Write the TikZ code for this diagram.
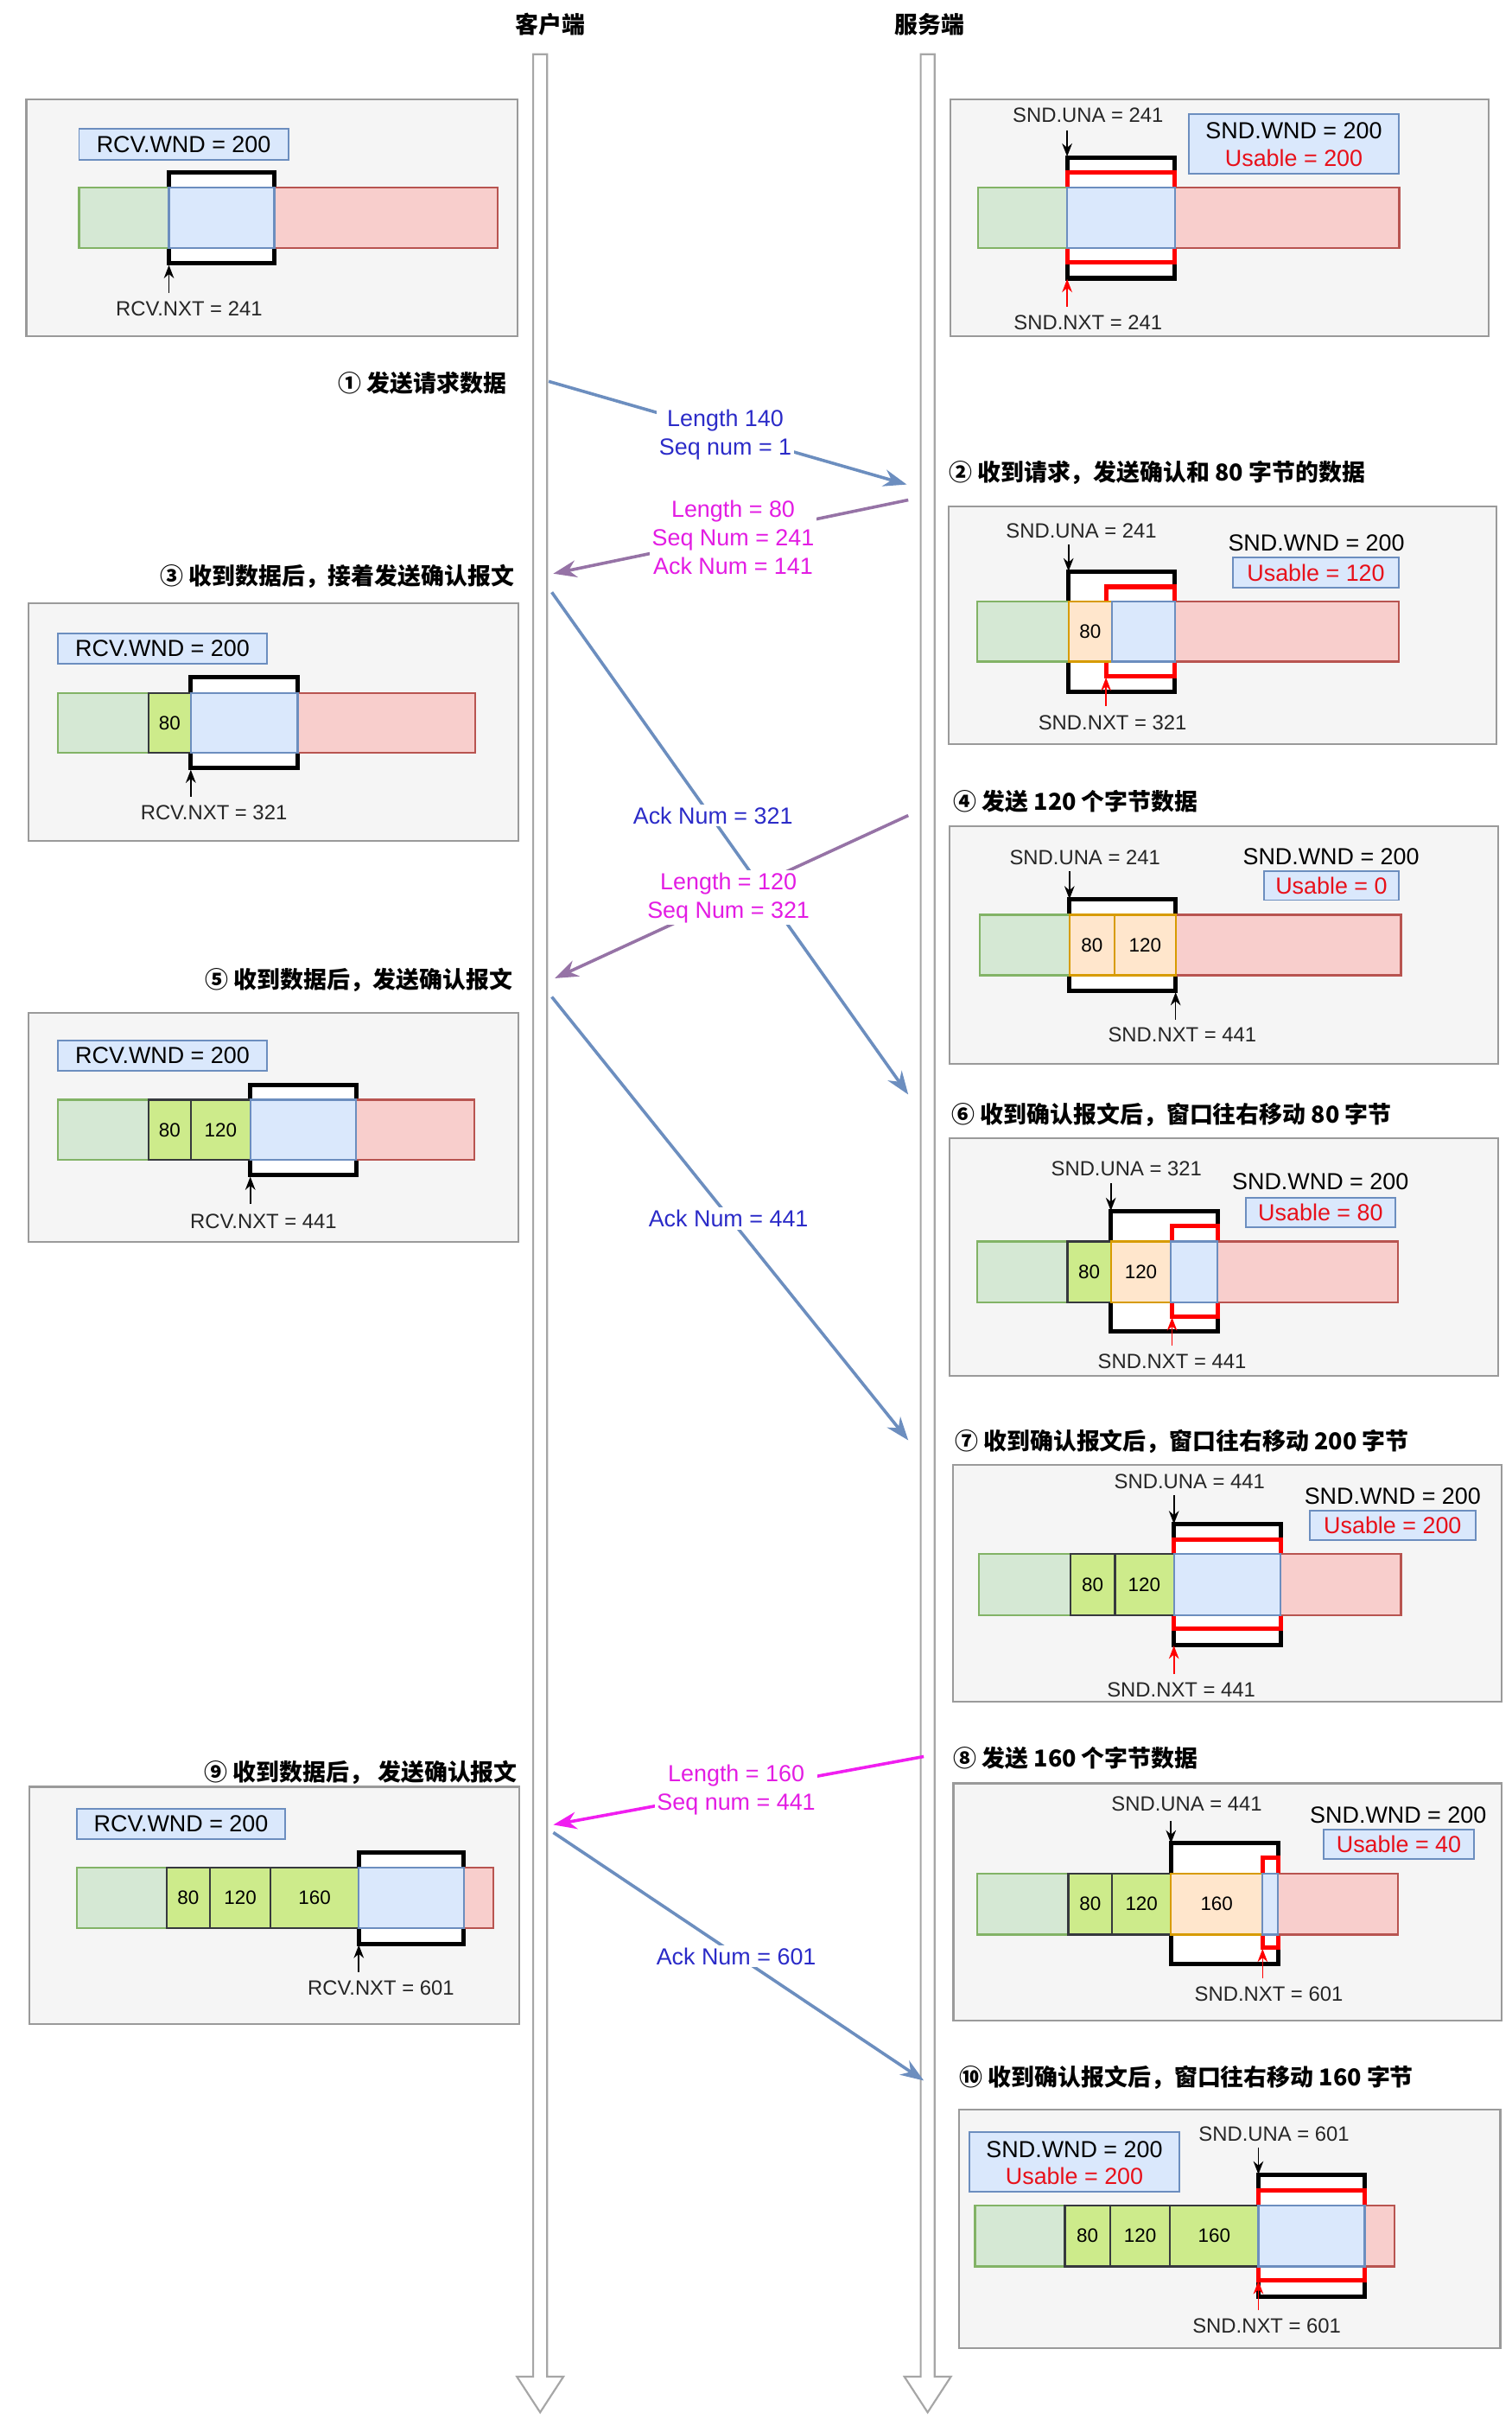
\documentclass[tikz,border=0pt]{standalone}
\usepackage{fontspec}
\setmainfont{Liberation Sans}
\newfontfamily\cjk{Noto Sans CJK SC}
\usetikzlibrary{arrows.meta}
\definecolor{panelbg}{HTML}{F5F5F5}
\definecolor{panelbd}{HTML}{9A9A9A}
\definecolor{gf}{HTML}{D5E8D4}\definecolor{gd}{HTML}{82B366}
\definecolor{bf}{HTML}{DAE8FC}\definecolor{bd}{HTML}{6C8EBF}
\definecolor{rf}{HTML}{F8CECC}\definecolor{rd}{HTML}{B85450}
\definecolor{of}{HTML}{FFE6CC}\definecolor{od}{HTML}{D79B00}
\definecolor{lf}{HTML}{CDEB8B}\definecolor{ld}{HTML}{36393D}
\definecolor{mblue}{HTML}{6C8EBF}
\definecolor{mpurple}{HTML}{9673A6}
\definecolor{mmag}{HTML}{F01EF0}
\definecolor{tblue}{HTML}{2B2BC8}
\definecolor{tmag}{HTML}{E31CE3}
\definecolor{usered}{HTML}{E8101A}
\definecolor{llgray}{HTML}{A6A6A6}
\tikzset{
  panel/.style={fill=panelbg, draw=panelbd, line width=1.2pt},
  wndbox/.style={fill=bf, draw=bd, line width=1pt},
  win/.style={fill=white, draw=black, line width=2.8pt},
  uwin/.style={fill=white, draw=red, line width=2.8pt},
  sg/.style={fill=gf, draw=gd, line width=1.3pt},
  sb/.style={fill=bf, draw=bd, line width=1.3pt},
  sr/.style={fill=rf, draw=rd, line width=1.3pt},
  so/.style={fill=of, draw=od, line width=1.3pt},
  sl/.style={fill=lf, draw=ld, line width=1.3pt},
  cell/.style={font=\fontsize{12.5}{14}\selectfont, inner sep=0pt},
  ptr/.style={draw=black, line width=0.9pt, -{Stealth[length=8.5pt,width=6.5pt]}},
  rptr/.style={draw=red, line width=0.9pt, -{Stealth[length=8.5pt,width=6.5pt]}},
  ptrlbl/.style={font=\fontsize{13.3}{15}\selectfont, text=black!85, inner sep=0pt},
  wndtxt/.style={font=\fontsize{15}{17}\selectfont, inner sep=0pt},
  usetxt/.style={font=\fontsize{15}{17}\selectfont, inner sep=0pt, text=usered},
  stepl/.style={font=\cjk\bfseries\fontsize{15}{17}\selectfont, inner sep=0pt},
  hdr/.style={font=\cjk\bfseries\fontsize{15}{17}\selectfont, inner sep=0pt},
  msg/.style={line width=2pt, -{Stealth[length=15pt,width=11pt]}},
  msglbl/.style={fill=white, inner sep=1.5pt, align=center, font=\fontsize{15}{18.3}\selectfont},
  lifeline/.style={fill=white, draw=llgray, line width=1.2pt}
}
\begin{document}
\begin{tikzpicture}[x=1pt,y=-1pt]
\useasboundingbox[fill=white] (0,0) rectangle (975,1560.3);

% headers
\node[hdr] (hc) at (355,16) {客户端};
\node[hdr] (hs) at (600,16) {服务端};

% lifelines
\draw[lifeline] (344,35) -- (353,35) -- (353,1533) -- (363.5,1533) -- (348.5,1556) -- (333.5,1533) -- (344,1533) -- cycle;
\draw[lifeline] (594,35) -- (603,35) -- (603,1533) -- (613.5,1533) -- (598.5,1556) -- (583.5,1533) -- (594,1533) -- cycle;

% ================= Panel 1 client
\draw[panel] (17,64) rectangle (334,217);
\node[wndbox, wndtxt, minimum width=135pt, minimum height=20pt] (c1w) at (118.5,93) {RCV.WND = 200};
\draw[win] (109,111) rectangle (177,170);
\draw[sg] (51,121) rectangle (109,160);
\draw[sr] (177,121) rectangle (321,160);
\draw[sb] (109,121) rectangle (177,160);
\node[ptrlbl] (c1n) at (122,199) {RCV.NXT = 241};
\coordinate (c1a) at (109,189); \coordinate (c1b) at (109,171);
\draw[ptr] (c1a) -- (c1b);

% ================= Panel 1 server
\draw[panel] (613,64) rectangle (960.6,217);
\draw[win] (688.5,101.5) rectangle (758,179.5);
\draw[uwin] (688.5,111) rectangle (758,169);
\draw[sg] (631,121) rectangle (688.5,160);
\draw[sr] (758,121) rectangle (902.7,160);
\draw[sb] (688.5,121) rectangle (758,160);
\node[ptrlbl] (s1u) at (702,74.3) {SND.UNA = 241};
\coordinate (s1ua) at (688.5,84); \coordinate (s1ub) at (688.5,101);
\draw[ptr] (s1ua) -- (s1ub);
\node[ptrlbl] (s1n) at (702,208) {SND.NXT = 241};
\coordinate (s1na) at (688.5,198); \coordinate (s1nb) at (688.5,180);
\draw[rptr] (s1na) -- (s1nb);
\draw[wndbox] (767,73.7) rectangle (902.6,112);
\node[wndtxt] (s1w) at (834.8,84.5) {SND.WND = 200};
\node[usetxt] (s1x) at (834.8,102) {Usable = 200};

% ================= Panel 2 server
\draw[panel] (612,326.7) rectangle (965.5,480);
\draw[win] (689.4,368.8) rectangle (758,446.5);
\draw[uwin] (713.6,378.5) rectangle (758,436.3);
\draw[sg] (630.6,388) rectangle (689.4,426.8);
\draw[sr] (758,388) rectangle (902.6,426.8);
\draw[so] (689.4,388) rectangle (717.3,426.8);
\draw[sb] (717.3,388) rectangle (758,426.8);
\node[cell] (s2c1) at (703.4,407.4) {80};
\node[ptrlbl] (s2u) at (697.7,342.4) {SND.UNA = 241};
\coordinate (s2ua) at (689.4,351); \coordinate (s2ub) at (689.4,368.5);
\draw[ptr] (s2ua) -- (s2ub);
\node[ptrlbl] (s2n) at (717.8,466.4) {SND.NXT = 321};
\coordinate (s2na) at (713.6,455.5); \coordinate (s2nb) at (713.6,437);
\draw[rptr] (s2na) -- (s2nb);
\node[wndtxt] (s2w) at (849.3,350.2) {SND.WND = 200};
\node[wndbox, usetxt, minimum width=107pt, minimum height=19.5pt] (s2x) at (849,369.3) {Usable = 120};

% ================= Panel 3 client
\draw[panel] (18.2,389.3) rectangle (334.7,542.5);
\node[wndbox, wndtxt, minimum width=134.8pt, minimum height=19.6pt] (c3w) at (104.8,418.2) {RCV.WND = 200};
\draw[win] (123.1,437) rectangle (192,495.5);
\draw[sg] (37.4,446.9) rectangle (95.8,485.5);
\draw[sr] (192,446.9) rectangle (306.6,485.5);
\draw[sl] (95.8,446.9) rectangle (123.1,485.5);
\draw[sb] (123.1,446.9) rectangle (192,485.5);
\node[cell] (c3c1) at (109.5,466.2) {80};
\node[ptrlbl] (c3n) at (138,524) {RCV.NXT = 321};
\coordinate (c3a) at (123.1,513.8); \coordinate (c3b) at (123.1,496.5);
\draw[ptr] (c3a) -- (c3b);

% ================= Panel 4 server
\draw[panel] (612.8,533) rectangle (966.6,686);
\draw[win] (690,580) rectangle (758.5,639.2);
\draw[sg] (632,590) rectangle (690,629);
\draw[sr] (758.5,590) rectangle (903.8,629);
\draw[so] (690,590) rectangle (719,629);
\draw[so] (719,590) rectangle (758.5,629);
\node[cell] (s4c1) at (704.5,609.5) {80};
\node[cell] (s4c2) at (738.8,609.5) {120};
\node[ptrlbl] (s4u) at (700,553.3) {SND.UNA = 241};
\coordinate (s4ua) at (690,562); \coordinate (s4ub) at (690,580);
\draw[ptr] (s4ua) -- (s4ub);
\node[ptrlbl] (s4n) at (762.8,667.4) {SND.NXT = 441};
\coordinate (s4na) at (758.5,657.8); \coordinate (s4nb) at (758.5,640);
\draw[ptr] (s4na) -- (s4nb);
\node[wndtxt] (s4w) at (858.8,552.4) {SND.WND = 200};
\node[wndbox, usetxt, minimum width=87.2pt, minimum height=18.6pt] (s4x) at (859,571.3) {Usable = 0};

% ================= Panel 5 client
\draw[panel] (18.2,653.1) rectangle (334.7,801.2);
\node[wndbox, wndtxt, minimum width=134.8pt, minimum height=19.5pt] (c5w) at (104.8,680.9) {RCV.WND = 200};
\draw[win] (161.5,699.6) rectangle (229.8,758.1);
\draw[sg] (37.4,709.4) rectangle (95.8,748.2);
\draw[sr] (229.8,709.4) rectangle (306.2,748.2);
\draw[sl] (95.8,709.4) rectangle (123.1,748.2);
\draw[sl] (123.1,709.4) rectangle (161.5,748.2);
\draw[sb] (161.5,709.4) rectangle (229.8,748.2);
\node[cell] (c5c1) at (109.5,728.8) {80};
\node[cell] (c5c2) at (142.3,728.8) {120};
\node[ptrlbl] (c5n) at (170,787.8) {RCV.NXT = 441};
\coordinate (c5a) at (161.5,776.7); \coordinate (c5b) at (161.5,759);
\draw[ptr] (c5a) -- (c5b);

% ================= Panel 6 server
\draw[panel] (612.7,734) rectangle (966.7,887.3);
\draw[win] (716.7,781) rectangle (785.6,858.8);
\draw[uwin] (756.2,791) rectangle (785.6,849.1);
\draw[sg] (630.4,800.8) rectangle (688.7,839.9);
\draw[sr] (785.6,800.8) rectangle (902,839.9);
\draw[sl] (688.7,800.8) rectangle (716.7,839.9);
\draw[so] (716.7,800.8) rectangle (755.5,839.9);
\draw[sb] (755.5,800.8) rectangle (785.6,839.9);
\node[cell] (s6c1) at (702.7,820.4) {80};
\node[cell] (s6c2) at (736.1,820.4) {120};
\node[ptrlbl] (s6u) at (726.8,754) {SND.UNA = 321};
\coordinate (s6ua) at (716.7,763.3); \coordinate (s6ub) at (716.7,781);
\draw[ptr] (s6ua) -- (s6ub);
\node[ptrlbl] (s6n) at (756.2,878.3) {SND.NXT = 441};
\coordinate (s6na) at (756.2,867.7); \coordinate (s6nb) at (756.2,849.8);
\draw[rptr] (s6na) -- (s6nb);
\node[wndtxt] (s6w) at (851.9,762.2) {SND.WND = 200};
\node[wndbox, usetxt, minimum width=96.7pt, minimum height=18.9pt] (s6x) at (852,782) {Usable = 80};

% ================= Panel 7 server
\draw[panel] (615,944.8) rectangle (969,1097.7);
\draw[win] (757.4,983.3) rectangle (826.3,1060.9);
\draw[uwin] (757.4,993.1) rectangle (826.3,1050.7);
\draw[sg] (631.6,1002.4) rectangle (690.8,1041.8);
\draw[sr] (826.3,1002.4) rectangle (903.9,1041.8);
\draw[sl] (690.8,1002.4) rectangle (719.3,1041.8);
\draw[sl] (719.3,1002.4) rectangle (757.4,1041.8);
\draw[sb] (757.4,1002.4) rectangle (826.3,1041.8);
\node[cell] (s7c1) at (705,1022.1) {80};
\node[cell] (s7c2) at (738.3,1022.1) {120};
\node[ptrlbl] (s7u) at (767.5,955.4) {SND.UNA = 441};
\coordinate (s7ua) at (757.4,964.3); \coordinate (s7ub) at (757.4,983);
\draw[ptr] (s7ua) -- (s7ub);
\node[ptrlbl] (s7n) at (762.1,1090.1) {SND.NXT = 441};
\coordinate (s7na) at (757.4,1079.5); \coordinate (s7nb) at (757.4,1061.5);
\draw[rptr] (s7na) -- (s7nb);
\node[wndtxt] (s7w) at (898.5,965.3) {SND.WND = 200};
\node[wndbox, usetxt, minimum width=106.8pt, minimum height=19.3pt] (s7x) at (898.5,983.9) {Usable = 200};

% ================= Panel 8 server
\draw[panel] (615.1,1150.3) rectangle (968.7,1303.5);
\draw[win] (755.5,1188.9) rectangle (824.5,1266.8);
\draw[uwin] (814.6,1198.2) rectangle (824.5,1256.2);
\draw[sg] (630.4,1208.4) rectangle (689.3,1247.8);
\draw[sr] (824.5,1208.4) rectangle (902.1,1247.8);
\draw[sl] (689.3,1208.4) rectangle (717.5,1247.8);
\draw[sl] (717.5,1208.4) rectangle (755.5,1247.8);
\draw[so] (755.5,1208.4) rectangle (814.6,1247.8);
\draw[sb] (814.6,1208.4) rectangle (824.5,1247.8);
\node[cell] (s8c1) at (703.4,1228.1) {80};
\node[cell] (s8c2) at (736.5,1228.1) {120};
\node[cell] (s8c3) at (785,1228.1) {160};
\node[ptrlbl] (s8u) at (765.7,1163.3) {SND.UNA = 441};
\coordinate (s8ua) at (755.5,1174.4); \coordinate (s8ub) at (755.5,1189);
\draw[ptr] (s8ua) -- (s8ub);
\node[ptrlbl] (s8n) at (818.6,1286.3) {SND.NXT = 601};
\coordinate (s8na) at (814.6,1276.2); \coordinate (s8nb) at (814.6,1257);
\draw[rptr] (s8na) -- (s8nb);
\node[wndtxt] (s8w) at (902.1,1170.7) {SND.WND = 200};
\node[wndbox, usetxt, minimum width=97.1pt, minimum height=18.8pt] (s8x) at (902.5,1189.7) {Usable = 40};

% ================= Panel 9 client
\draw[panel] (19.1,1152.5) rectangle (334.8,1305.4);
\node[wndbox, wndtxt, minimum width=134.4pt, minimum height=19.5pt] (c9w) at (116.8,1176.3) {RCV.WND = 200};
\draw[win] (231.5,1194.8) rectangle (299.2,1253.8);
\draw[sg] (49.6,1204.7) rectangle (107.6,1243.7);
\draw[sr] (299.2,1204.7) rectangle (318.4,1243.7);
\draw[sl] (107.6,1204.7) rectangle (135.5,1243.7);
\draw[sl] (135.5,1204.7) rectangle (174.4,1243.7);
\draw[sl] (174.4,1204.7) rectangle (231.5,1243.7);
\draw[sb] (231.5,1204.7) rectangle (299.2,1243.7);
\node[cell] (c9c1) at (121.5,1224.2) {80};
\node[cell] (c9c2) at (155,1224.2) {120};
\node[cell] (c9c3) at (203,1224.2) {160};
\node[ptrlbl] (c9n) at (245.8,1282.2) {RCV.NXT = 601};
\coordinate (c9a) at (231.5,1272); \coordinate (c9b) at (231.5,1254.5);
\draw[ptr] (c9a) -- (c9b);

% ================= Panel 10 server
\draw[panel] (618.6,1360.8) rectangle (968,1514.5);
\draw[wndbox] (625.6,1375.3) rectangle (760.7,1413.6);
\node[wndtxt] (s10w) at (693.2,1386.5) {SND.WND = 200};
\node[usetxt] (s10x) at (693.2,1403.8) {Usable = 200};
\draw[win] (811.9,1402.8) rectangle (880.4,1481.2);
\draw[uwin] (811.9,1412.6) rectangle (880.4,1470.6);
\draw[sg] (629,1422.6) rectangle (687,1461.9);
\draw[sr] (880.4,1422.6) rectangle (899.8,1461.9);
\draw[sl] (687,1422.6) rectangle (716.3,1461.9);
\draw[sl] (716.3,1422.6) rectangle (754.9,1461.9);
\draw[sl] (754.9,1422.6) rectangle (811.9,1461.9);
\draw[sb] (811.9,1422.6) rectangle (880.4,1461.9);
\node[cell] (s10c1) at (701.6,1442.2) {80};
\node[cell] (s10c2) at (735.6,1442.2) {120};
\node[cell] (s10c3) at (783.4,1442.2) {160};
\node[ptrlbl] (s10u) at (822,1376.4) {SND.UNA = 601};
\coordinate (s10ua) at (811.9,1385); \coordinate (s10ub) at (811.9,1402.5);
\draw[ptr] (s10ua) -- (s10ub);
\node[ptrlbl] (s10n) at (817.3,1500.5) {SND.NXT = 601};
\coordinate (s10na) at (811.9,1490); \coordinate (s10nb) at (811.9,1471.2);
\draw[rptr] (s10na) -- (s10nb);

% ================= step labels
\node[stepl, anchor=east] (t1) at (327,247) {① 发送请求数据};
\node[stepl, anchor=west] (t2) at (612,305) {② 收到请求，发送确认和 80 字节的数据};
\node[stepl, anchor=east] (t3) at (332,372) {③ 收到数据后，接着发送确认报文};
\node[stepl, anchor=west] (t4) at (615,517) {④ 发送 120 个字节数据};
\node[stepl, anchor=east] (t5) at (331,632) {⑤ 收到数据后，发送确认报文};
\node[stepl, anchor=west] (t6) at (614,719) {⑥ 收到确认报文后，窗口往右移动 80 字节};
\node[stepl, anchor=west] (t7) at (616,930) {⑦ 收到确认报文后，窗口往右移动 200 字节};
\node[stepl, anchor=west] (t8) at (615,1134) {⑧ 发送 160 个字节数据};
\node[stepl, anchor=east] (t9) at (334,1143) {⑨ 收到数据后，\ 发送确认报文};
\node[stepl, anchor=west] (t10) at (619,1340) {⑩ 收到确认报文后，窗口往右移动 160 字节};

% ================= messages
\coordinate (m1s) at (354,246); \coordinate (m1e) at (585,312.5);
\coordinate (m2s) at (586,322.5); \coordinate (m2e) at (357,370);
\coordinate (m3s) at (356,382); \coordinate (m3e) at (586,706);
\coordinate (m4s) at (586,526); \coordinate (m4e) at (358,631);
\coordinate (m5s) at (356,643); \coordinate (m5e) at (586,929);
\coordinate (m8s) at (596,1133); \coordinate (m8e) at (357,1177);
\coordinate (m9s) at (357,1182); \coordinate (m9e) at (596,1342);

\draw[msg, draw=mblue] (m1s) -- (m1e);
\draw[msg, draw=mpurple] (m2s) -- (m2e);
\draw[msg, draw=mblue] (m3s) -- (m3e);
\draw[msg, draw=mpurple] (m4s) -- (m4e);
\draw[msg, draw=mblue] (m5s) -- (m5e);
\draw[msg, draw=mmag] (m8s) -- (m8e);
\draw[msg, draw=mblue] (m9s) -- (m9e);

\node[msglbl, text=tblue] (l1) at (468,280.2) {Length 140\\Seq num = 1};
\node[msglbl, text=tmag] (l2) at (473,346.6) {Length = 80\\Seq Num = 241\\Ack Num = 141};
\node[msglbl, text=tblue] (l3) at (460,526) {Ack Num = 321};
\node[msglbl, text=tmag] (l4) at (470,579) {Length = 120\\Seq Num = 321};
\node[msglbl, text=tblue] (l5) at (470,786) {Ack Num = 441};
\node[msglbl, text=tmag] (l8) at (475,1154.5) {Length = 160\\Seq num = 441};
\node[msglbl, text=tblue] (l9) at (475,1262) {Ack Num = 601};
\end{tikzpicture}
\end{document}
